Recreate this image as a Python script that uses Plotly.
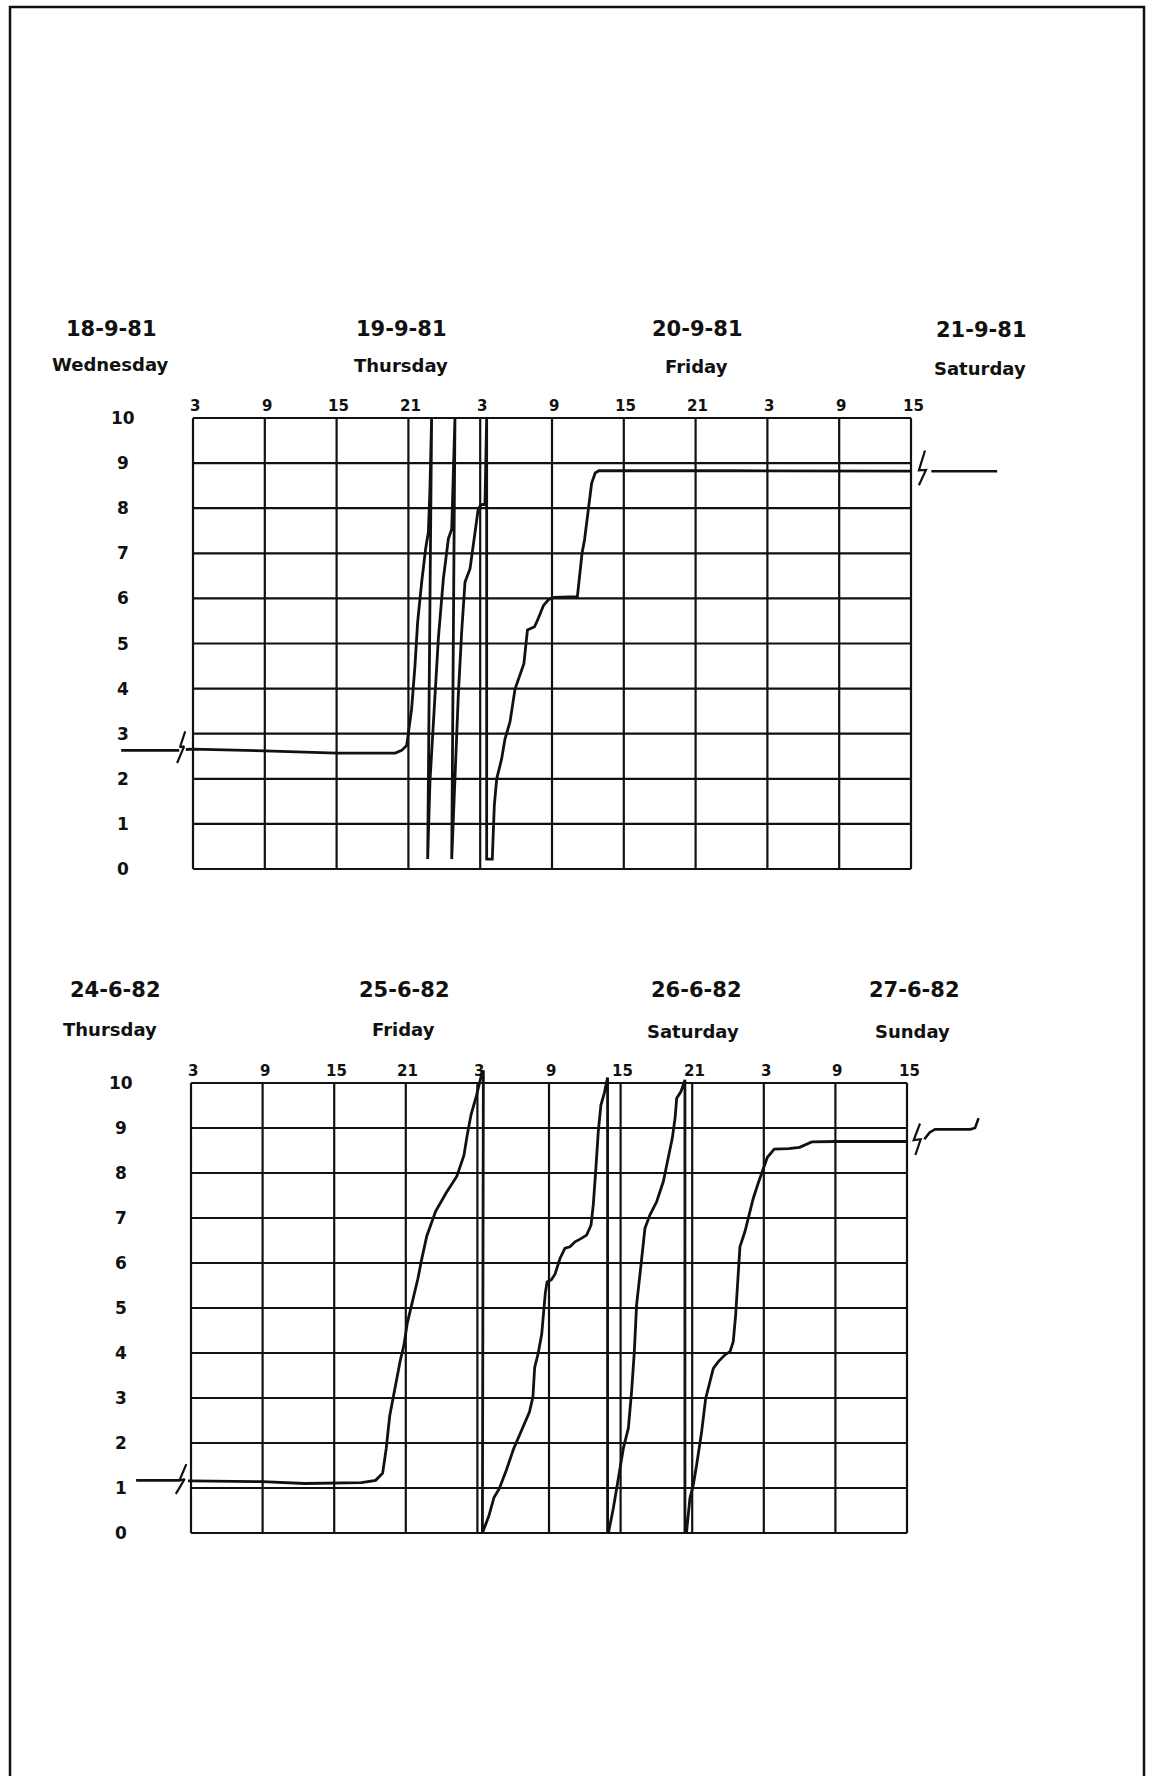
import plotly.graph_objects as go

W, H = 1149, 1776

# ---------------- tick / label data ----------------
HOUR_TICKS = [0, 6, 12, 18, 24, 30, 36, 42, 48, 54, 60]          # hours since first 03:00
HOUR_LABELS = ["3", "9", "15", "21", "3", "9", "15", "21", "3", "9", "15"]
LEVEL_TICKS = [0, 1, 2, 3, 4, 5, 6, 7, 8, 9, 10]

TOP_DATES = ["18-9-81", "19-9-81", "20-9-81", "21-9-81"]
TOP_DAYS = ["Wednesday", "Thursday", "Friday", "Saturday"]
BOT_DATES = ["24-6-82", "25-6-82", "26-6-82", "27-6-82"]
BOT_DAYS = ["Thursday", "Friday", "Saturday", "Sunday"]

# ---------------- top record (Sept 1981) ----------------
top_hours = [-0.6, 0, 6, 12, 16.9, 17.44, 17.86, 17.99, 18.27, 18.55, 18.77, 19.11, 19.44, 19.67, 19.8, 19.94,
             19.61,
             19.8, 20.17, 20.5, 20.92, 21.34, 21.62, 21.75, 21.89,
             21.62,
             21.84, 22.17, 22.45, 22.73, 23.15, 23.51, 23.84, 24.07, 24.4, 24.54,
             24.54, 25.01,
             25.18, 25.38, 25.79, 26.07, 26.49, 26.91, 27.33, 27.65, 27.95, 28.54, 28.84, 29.28, 29.73, 30.18,
             32.12, 32.33, 32.51, 32.72, 33.02, 33.31, 33.61, 33.91, 45.0, 60.0]
top_level = [2.65, 2.66, 2.62, 2.57, 2.57, 2.63, 2.74, 3.0, 3.55, 4.51, 5.47, 6.36, 7.1, 7.47, 8.43, 10.0,
             0.22,
             1.93, 3.77, 5.1, 6.43, 7.32, 7.54, 8.8, 10.0,
             0.22,
             1.78, 3.85, 5.25, 6.36, 6.66, 7.32, 7.99, 8.07, 8.1, 10.0,
             0.22, 0.22,
             1.41, 2.0, 2.44, 2.88, 3.26, 3.99, 4.3, 4.55, 5.3, 5.37, 5.55, 5.84, 5.98, 6.02,
             6.04, 6.5, 7.0, 7.3, 8.0, 8.55, 8.78, 8.83, 8.83, 8.82]

top_lead_hours = [-6.0, -1.15]
top_lead_level = [2.63, 2.63]
top_tail_hours = [61.7, 67.2]
top_tail_level = [8.82, 8.82]
top_break_l_hours = [-0.65, -1.09, -0.74, -1.33]
top_break_l_level = [3.05, 2.7, 2.72, 2.35]
top_break_r_hours = [61.17, 60.66, 61.25, 60.66]
top_break_r_level = [9.28, 8.84, 8.85, 8.51]

# ---------------- bottom record (June 1982) ----------------
bot_hours = [-0.25, 0, 5.98, 9.54, 14.28, 15.47, 16.06, 16.36, 16.65, 17.1, 17.54, 17.84, 18.13, 18.58, 19.02,
             19.32, 19.76, 20.5, 21.39, 22.28, 22.87, 23.17, 23.47, 23.91, 24.36, 24.5,
             24.42,
             24.95, 25.39, 25.84, 26.43, 27.02, 27.76, 28.36, 28.65, 28.8, 29.1, 29.39, 29.69, 29.84, 30.2,
             30.5, 30.92, 31.34, 31.76, 32.18, 32.6, 33.15, 33.52, 33.71, 33.91, 34.13, 34.35, 34.63, 34.91,
             34.91,
             35.0, 35.39, 35.81, 36.23, 36.65, 36.92, 37.15, 37.34, 37.71, 38.04, 38.46, 39.02, 39.58, 40.0,
             40.33, 40.56, 40.7, 41.06, 41.39,
             41.39,
             41.53, 41.81, 42.09, 42.37, 42.79, 43.13, 43.41, 43.77, 44.19, 44.75, 45.17, 45.44, 45.64, 45.81,
             46.0, 46.42, 46.7, 47.12, 47.5, 47.9, 48.3, 48.88, 50.08, 51.0, 51.42, 52.02, 54.0, 60.0]
bot_level = [1.16, 1.16, 1.14, 1.1, 1.12, 1.17, 1.33, 1.88, 2.6, 3.26, 3.84, 4.17, 4.67, 5.17, 5.66,
             6.07, 6.6, 7.15, 7.56, 7.93, 8.39, 8.88, 9.3, 9.71, 10.2, 10.28,
             0.0,
             0.37, 0.79, 0.99, 1.4, 1.86, 2.31, 2.69, 3.02, 3.68, 4.0, 4.42, 5.33, 5.58, 5.63,
             5.75, 6.1, 6.33, 6.36, 6.47, 6.53, 6.62, 6.84, 7.29, 8.03, 8.92, 9.51, 9.77, 10.12,
             0.03,
             0.03, 0.55, 1.21, 1.88, 2.33, 3.14, 4.03, 5.07, 5.96, 6.77, 7.07, 7.36, 7.81, 8.33,
             8.77, 9.21, 9.66, 9.81, 10.07,
             0.03,
             0.03, 0.77, 1.07, 1.51, 2.25, 2.99, 3.29, 3.66, 3.81, 3.96, 4.03, 4.25, 4.84, 5.66,
             6.36, 6.7, 6.99, 7.44, 7.75, 8.05, 8.35, 8.53, 8.54, 8.57, 8.62, 8.69, 8.7, 8.7]

bot_lead_hours = [-4.6, -0.98]
bot_lead_level = [1.17, 1.17]
bot_tail_hours = [61.45, 61.9, 62.35, 63.85, 65.3, 65.7, 66.0]
bot_tail_level = [8.75, 8.9, 8.97, 8.97, 8.97, 9.0, 9.22]
bot_break_l_hours = [-0.39, -0.98, -0.53, -1.27]
bot_break_l_level = [1.53, 1.16, 1.2, 0.87]
bot_break_r_hours = [61.09, 60.56, 61.15, 60.7]
bot_break_r_level = [9.1, 8.73, 8.75, 8.4]

# ---------------- layout geometry (pixels) ----------------
# plot-frame anchors: (x px of hour 0, x px of hour 60, y px of level 10, y px of level 0)
TOP_FRAME = (193, 911, 418, 869)
BOT_FRAME = (191, 907, 1083, 1533)


def axis_ranges(frame):
    x0, x1, yt, yb = frame
    sx = (x1 - x0) / 60.0
    sy = (yb - yt) / 10.0
    xr = [-x0 / sx, (W - x0) / sx]
    yr = [(yb - H) / sy, yb / sy]
    return xr, yr


def grid_xy():
    gx, gy = [], []
    for h in HOUR_TICKS:
        gx += [h, h, None]
        gy += [LEVEL_TICKS[0], LEVEL_TICKS[-1], None]
    for v in LEVEL_TICKS:
        gx += [HOUR_TICKS[0], HOUR_TICKS[-1], None]
        gy += [v, v, None]
    return gx, gy


def px(x):
    return x / W


def py(y):
    return 1 - y / H


fig = go.Figure()
INK = "#111111"
gx, gy = grid_xy()

panels = [
    ("x", "y", top_hours, top_level, top_lead_hours, top_lead_level, top_tail_hours, top_tail_level,
     [(top_break_l_hours, top_break_l_level), (top_break_r_hours, top_break_r_level)]),
    ("x2", "y2", bot_hours, bot_level, bot_lead_hours, bot_lead_level, bot_tail_hours, bot_tail_level,
     [(bot_break_l_hours, bot_break_l_level), (bot_break_r_hours, bot_break_r_level)]),
]

for xa, ya, hh, vv, lh, lv, th, tv, breaks in panels:
    fig.add_trace(go.Scatter(x=gx, y=gy, mode="lines", xaxis=xa, yaxis=ya,
                             line=dict(color=INK, width=2.2), hoverinfo="skip", showlegend=False))
    fig.add_trace(go.Scatter(x=hh, y=vv, mode="lines", xaxis=xa, yaxis=ya,
                             line=dict(color=INK, width=2.8), showlegend=False))
    fig.add_trace(go.Scatter(x=lh, y=lv, mode="lines", xaxis=xa, yaxis=ya,
                             line=dict(color=INK, width=2.6), showlegend=False))
    fig.add_trace(go.Scatter(x=th, y=tv, mode="lines", xaxis=xa, yaxis=ya,
                             line=dict(color=INK, width=2.6), showlegend=False))
    for bh, bv in breaks:
        fig.add_trace(go.Scatter(x=bh, y=bv, mode="lines", xaxis=xa, yaxis=ya,
                                 line=dict(color=INK, width=2.2), showlegend=False))

txr, tyr = axis_ranges(TOP_FRAME)
bxr, byr = axis_ranges(BOT_FRAME)
ax_common = dict(domain=[0, 1], visible=False, fixedrange=True)
fig.update_layout(
    width=W, height=H, autosize=False,
    margin=dict(l=0, r=0, t=0, b=0, pad=0),
    paper_bgcolor="white", plot_bgcolor="rgba(0,0,0,0)",
    xaxis=dict(range=txr, anchor="y", **ax_common),
    yaxis=dict(range=tyr, anchor="x", **ax_common),
    xaxis2=dict(range=bxr, anchor="y2", **ax_common),
    yaxis2=dict(range=byr, anchor="x2", **ax_common),
)

FONT = "DejaVu Sans"
ann = []


def text(x, y, s, size, xref="paper", yref="paper", xshift=0, yshift=0):
    ann.append(dict(x=x, y=y, xref=xref, yref=yref, text=s, showarrow=False,
                    xanchor="center", yanchor="middle", xshift=xshift, yshift=yshift,
                    font=dict(family=FONT, size=size, color=INK, weight="bold")))


# date / weekday headers (pixel centres)
top_date_pos = [(111, 329), (401, 329), (697, 329), (981, 330)]
top_day_pos = [(110, 364), (401, 365), (696, 366), (980, 368)]
bot_date_pos = [(115, 990), (404, 990), (696, 990), (914, 990)]
bot_day_pos = [(110, 1029), (403, 1029), (693, 1031), (912, 1031)]
for lbl, (x, y) in zip(TOP_DATES, top_date_pos):
    text(px(x), py(y), lbl, 21)
for lbl, (x, y) in zip(TOP_DAYS, top_day_pos):
    text(px(x), py(y), lbl, 18)
for lbl, (x, y) in zip(BOT_DATES, bot_date_pos):
    text(px(x), py(y), lbl, 21)
for lbl, (x, y) in zip(BOT_DAYS, bot_day_pos):
    text(px(x), py(y), lbl, 18)

# hour labels above each frame, level labels at left
for xa, ya, ylab_x in (("x", "y", 123), ("x2", "y2", 121)):
    for h, lbl in zip(HOUR_TICKS, HOUR_LABELS):
        text(h, LEVEL_TICKS[-1], lbl, 15, xref=xa, yref=ya, xshift=2, yshift=12)
    for v in LEVEL_TICKS:
        text(px(ylab_x), v, str(v), 17, xref="paper", yref=ya)

fig.update_layout(annotations=ann)

# page border (open at the bottom, as on the scanned sheet)
fig.add_shape(type="path", xref="paper", yref="paper",
              path=f"M {px(10)} {py(1800)} L {px(10)} {py(7)} L {px(1144)} {py(7)} L {px(1144)} {py(1800)}",
              line=dict(color=INK, width=2.5))

fig.write_html("out.html")
